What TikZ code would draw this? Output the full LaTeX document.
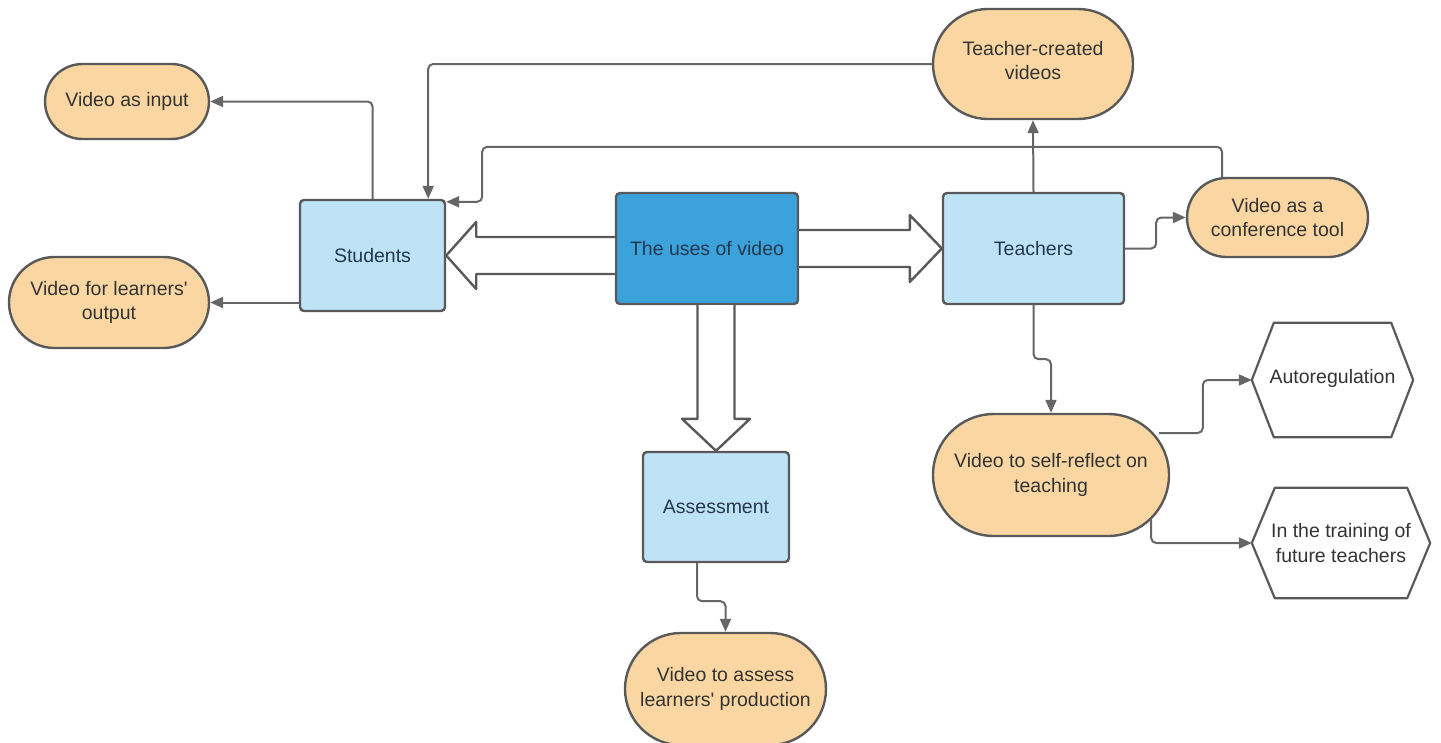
\documentclass[tikz,border=0pt]{standalone}
\usepackage{fontspec}
\setmainfont{Liberation Sans}[Ligatures=TeXOff]
\usetikzlibrary{arrows.meta,calc,shapes.misc}

\definecolor{pillfill}{HTML}{FAD7A2}
\definecolor{boxfill}{HTML}{BEE3F6}
\definecolor{hubfill}{HTML}{3BA2DC}
\definecolor{edge}{HTML}{595959}
\definecolor{wire}{HTML}{666666}
\definecolor{ink}{HTML}{333333}
\definecolor{navy}{HTML}{24384D}

\tikzset{
  every node/.style={font=\fontsize{19.5}{24.5}\selectfont, align=center, inner sep=0pt},
  pill/.style={rounded rectangle, draw=edge, line width=2.4pt, fill=pillfill, text=ink},
  bluebox/.style={rectangle, rounded corners=4pt, draw=edge, line width=2.4pt, fill=boxfill, text=navy},
  hubbox/.style={rectangle, rounded corners=4pt, draw=edge, line width=2.4pt, fill=hubfill, text=navy},
  hexlabel/.style={rectangle, text=ink},
  hexline/.style={draw=edge, line width=2.2pt, line join=round},
  conn/.style={draw=wire, line width=2pt, rounded corners=5pt,
               -{Triangle[length=13pt,width=11pt]}},
  bigarrow/.style={draw=edge, line width=2.4pt, fill=white, line join=round},
}

\begin{document}
\begin{tikzpicture}[x=1pt,y=-1pt]
\useasboundingbox (0,0) rectangle (1441,742);

% central hub and the three groups
\node[hubbox, minimum width=182pt, minimum height=111pt] (uses) at (707,248.5) {The uses of video};
\node[bluebox, minimum width=145pt, minimum height=111pt] (students) at (372.5,255.5) {Students};
\node[bluebox, minimum width=181pt, minimum height=111pt] (teachers) at (1033.5,248.5) {Teachers};
\node[bluebox, minimum width=146pt, minimum height=110pt] (assess) at (716,507) {Assessment};

% uses of video (terminators)
\node[pill, minimum width=164pt, minimum height=75pt] (vin) at (127,101.5) {Video as input};
\node[pill, minimum width=200pt, minimum height=91pt] (vout) at (109,302.5) {Video for learners'\\output};
\node[pill, minimum width=200pt, minimum height=110pt] (tc) at (1033,64) {Teacher-created\\videos\\[-17pt]};
\node[pill, minimum width=181pt, minimum height=79pt] (conf) at (1277.5,217.5) {Video as a\\conference tool};
\node[pill, minimum width=236pt, minimum height=122pt] (self) at (1051,475) {Video to self-reflect on\\teaching};
\node[pill, minimum width=201pt, minimum height=112pt] (vassess) at (725.5,689) {Video to assess\\learners' production};

% hexagon labels
\node[hexlabel, minimum width=161pt, minimum height=114pt] (auto) at (1332.5,380) {Autoregulation\\[-18pt]};
\node[hexlabel, minimum width=178pt, minimum height=110pt] (train) at (1341,543) {In the training of\\future teachers};
\foreach \h/\c in {auto/22, train/23}{
  \draw[hexline] (\h.west) -- ($(\h.north west)+(\c,0)$) -- ($(\h.north east)+(-\c,0)$)
    -- (\h.east) -- ($(\h.south east)+(-\c,0)$) -- ($(\h.south west)+(\c,0)$) -- cycle;
}

% broad outlined arrows from the hub
\draw[bigarrow] ($(uses.west |- students.east)+(0,-18.5)$) -- ($(students.east)+(30,-18.5)$)
  -- ($(students.east)+(30,-33.5)$) -- (students.east) -- ($(students.east)+(30,33.5)$)
  -- ($(students.east)+(30,18.5)$) -- ($(uses.west |- students.east)+(0,18.5)$);
\draw[bigarrow] ($(uses.east |- teachers.west)+(0,-18.5)$) -- ($(teachers.west)+(-32,-18.5)$)
  -- ($(teachers.west)+(-32,-33.5)$) -- (teachers.west) -- ($(teachers.west)+(-32,33.5)$)
  -- ($(teachers.west)+(-32,18.5)$) -- ($(uses.east |- teachers.west)+(0,18.5)$);
\draw[bigarrow] ($(assess.north |- uses.south)+(-18.5,0)$) -- ($(assess.north)+(-18.5,-32)$)
  -- ($(assess.north)+(-34,-32)$) -- (assess.north) -- ($(assess.north)+(34,-32)$)
  -- ($(assess.north)+(18.5,-32)$) -- ($(assess.north |- uses.south)+(18.5,0)$);

% connectors
\draw[conn] (students.north) |- (vin.east);
\draw[conn] (students.west |- vout.east) -- (vout.east);
\draw[conn] (tc.west) -| ($(students.north east)+(-18,0)$);
\draw[conn] ($(conf.north)+(-55.5,0)$) -- ++(0,-30) -| ($(students.north east)+(36,3)$)
  -- ($(students.north east)+(0,3)$);
\draw[conn] (teachers.north) -- (tc.south);
\draw[conn] (teachers.east) -- ++(31,0) |- (conf.west);
\draw[conn] (teachers.south) -- ++(0,54) -| (self.north);
\draw[conn] ($(self.east)+(-11,-42)$) -| ($(auto.west)+(-49,0)$) -- (auto.west);
\draw[conn] ($(self.east)+(-19,44)$) |- (train.west);
\draw[conn] ($(assess.south)+(-19,0)$) -- ++(0,38) -| (vassess.north);
\end{tikzpicture}
\end{document}
